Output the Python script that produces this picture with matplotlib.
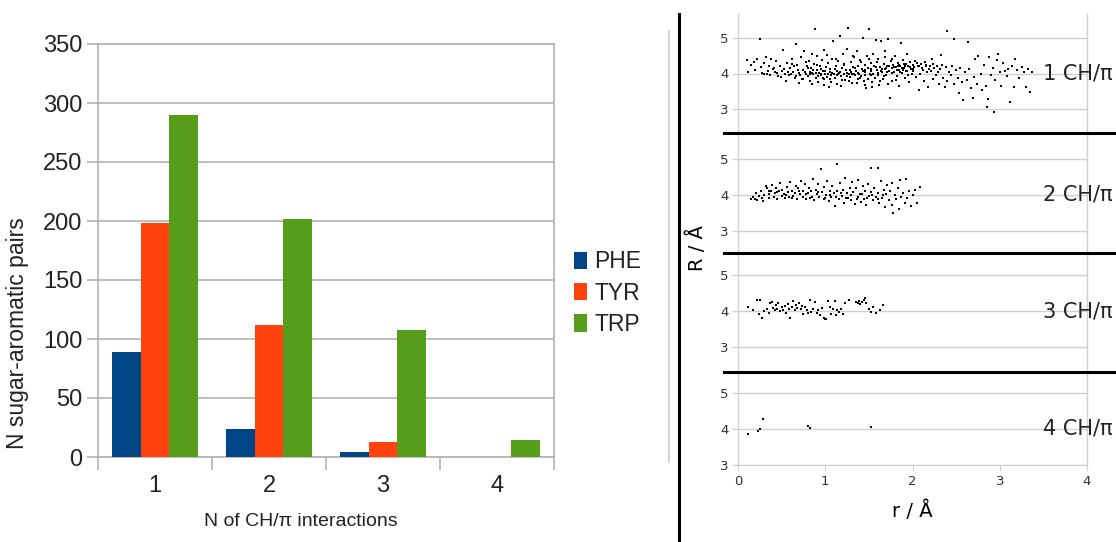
import matplotlib
matplotlib.use("Agg")
import matplotlib.pyplot as plt
from matplotlib.lines import Line2D
import numpy as np

# ---------------- data ----------------
categories = [1, 2, 3, 4]
cat_labels = ["1", "2", "3", "4"]
series_names = ["PHE", "TYR", "TRP"]
phe = [89, 24, 4, 0]
tyr = [198, 112, 13, 0]
trp = [290, 202, 108, 14]
bar_colors = ["#004586", "#ff420e", "#579d1c"]
y_ticks = [0, 50, 100, 150, 200, 250, 300, 350]

panel_labels = ["1 CH/π", "2 CH/π", "3 CH/π", "4 CH/π"]

p1 = [(0.10,4.38),(0.12,4.05),(0.15,4.25),(0.18,4.32),(0.20,4.10),(0.22,4.42),(0.25,4.96),(0.26,4.18),
      (0.28,4.02),(0.30,4.30),(0.32,4.45),(0.33,3.98),(0.35,4.20),(0.38,4.40),(0.40,4.12),(0.42,4.05),
      (0.44,4.35),(0.46,3.92),(0.48,4.22),(0.50,4.08),(0.52,4.67),(0.54,4.00),(0.56,4.30),(0.58,3.95),
      (0.60,4.15),(0.62,4.40),(0.63,4.05),(0.65,3.88),(0.66,4.82),(0.68,4.25),(0.70,4.02),(0.71,3.95),
      (0.72,4.45),(0.74,4.10),(0.75,3.85),(0.76,4.62),(0.78,4.00),(0.79,4.20),(0.80,3.92),(0.81,4.35),
      (0.82,4.05),(0.83,3.80),(0.84,4.15),(0.85,4.55),(0.86,3.98),(0.87,4.28),(0.88,5.24),(0.89,3.88),
      (0.90,4.10),(0.91,4.48),(0.92,3.75),(0.93,4.02),(0.94,4.20),(0.95,3.95),(0.96,4.38),(0.97,4.08),
      (0.98,3.85),(0.99,4.65),(1.00,4.00),(1.01,4.18),(1.02,3.90),(1.03,4.30),(1.04,3.62),(1.05,4.12),
      (1.06,4.05),(1.07,3.96),(1.08,4.42),(1.09,4.92),(1.10,4.00),(1.11,3.88),(1.12,4.22),(1.13,4.08),
      (1.14,3.70),(1.15,4.35),(1.16,4.02),(1.17,5.05),(1.18,3.92),(1.19,4.15),(1.20,4.55),(1.21,3.98),
      (1.22,4.25),(1.23,3.82),(1.24,4.10),(1.25,4.68),(1.26,5.28),(1.27,4.00),(1.28,3.90),(1.29,4.32),
      (1.30,4.05),(1.31,3.72),(1.32,4.18),(1.33,4.45),(1.34,3.95),(1.35,4.08),(1.36,4.62),(1.37,3.85),
      (1.38,4.22),(1.39,4.00),(1.40,4.38),(1.41,3.92),(1.42,4.12),(1.43,5.00),(1.44,3.80),(1.45,4.25),
      (1.46,4.05),(1.47,3.60),(1.48,4.48),(1.49,4.15),(1.50,5.25),(1.51,3.98),(1.52,4.30),(1.53,4.08),
      (1.54,3.75),(1.55,4.55),(1.56,4.20),(1.57,3.88),(1.58,4.95),(1.59,4.10),(1.60,4.02),(1.61,4.40),
      (1.62,3.68),(1.63,4.18),(1.64,4.92),(1.65,4.05),(1.66,3.85),(1.67,4.28),(1.68,4.12),(1.69,4.62),
      (1.70,3.95),(1.71,4.22),(1.72,4.98),(1.73,4.08),(1.74,3.31),(1.75,4.35),(1.76,4.15),(1.77,3.78),
      (1.78,4.25),(1.79,4.05),(1.80,4.50),(1.81,4.18),(1.82,3.92),(1.83,4.30),(1.84,4.10),(1.85,3.65),
      (1.86,4.22),(1.87,4.85),(1.88,4.02),(1.89,4.38),(1.90,4.15),(1.91,3.88),(1.92,4.28),(1.93,4.08),
      (1.94,4.55),(1.95,4.20),(1.96,3.75),(1.97,4.32),(1.98,4.12),(1.99,4.00),(2.00,4.25),(2.02,4.18),
      (2.04,3.90),(2.05,4.30),(2.07,4.22),(2.08,3.55),(2.10,4.28),(2.12,4.10),(2.13,3.80),(2.15,4.25),
      (2.17,4.05),(2.18,3.62),(2.20,4.20),(2.22,4.40),(2.23,3.85),(2.25,4.15),(2.27,3.95),(2.28,4.22),
      (2.30,3.70),(2.32,4.12),(2.33,4.52),(2.35,3.88),(2.37,3.62),(2.38,4.18),(2.39,5.18),(2.40,3.80),
      (2.42,4.05),(2.44,3.95),(2.45,4.20),(2.47,4.96),(2.48,3.70),(2.50,4.10),(2.52,3.88),(2.53,3.45),
      (2.55,4.15),(2.57,3.75),(2.58,3.25),(2.60,4.05),(2.62,3.82),(2.64,4.89),(2.65,4.12),(2.67,3.60),
      (2.69,3.31),(2.70,3.90),(2.72,4.42),(2.74,3.70),(2.75,4.48),(2.78,4.00),(2.80,3.55),(2.82,4.25),
      (2.84,3.65),(2.85,3.07),(2.86,3.28),(2.88,4.45),(2.90,3.95),(2.92,4.15),(2.93,2.93),(2.95,3.82),
      (2.97,4.38),(2.98,4.55),(3.00,4.05),(3.02,3.65),(3.04,4.30),(3.06,4.08),(3.08,3.92),(3.10,4.12),
      (3.12,3.21),(3.14,4.22),(3.16,3.62),(3.18,4.40),(3.20,4.10),(3.22,3.88),(3.25,4.18),(3.28,4.05),
      (3.30,3.62),(3.32,4.12),(3.35,3.47),(3.37,4.05),
      (0.30,4.00),(0.34,4.08),(0.37,3.95),(0.41,4.15),(0.45,4.02),(0.49,3.90),(0.53,4.12),(0.57,4.05),
      (0.61,3.98),(0.64,4.20),(0.67,3.92),(0.69,4.10),(0.73,3.85),(0.77,4.05),(0.80,4.15),(0.83,3.98),
      (0.86,4.10),(0.89,4.02),(0.92,3.92),(0.95,4.12),(0.97,3.88),(1.00,4.08),(1.03,3.98),(1.05,3.85),
      (1.08,4.02),(1.11,4.12),(1.14,3.95),(1.17,4.05),(1.19,3.82),(1.22,4.00),(1.25,3.92),(1.28,4.10),
      (1.31,3.98),(1.34,4.15),(1.37,4.02),(1.40,3.88),(1.43,4.08),(1.46,3.95),(1.49,3.85),(1.52,4.12),
      (1.55,4.00),(1.58,4.18),(1.61,3.95),(1.64,4.08),(1.67,3.92),(1.70,4.15),(1.73,4.22),(1.76,4.02),
      (1.79,4.18),(1.82,4.10),(1.85,4.25),(1.88,4.15),(1.91,4.20),(1.94,4.08),(1.97,4.18),(2.01,4.12),
      (2.06,4.20),(2.11,4.15),(2.16,4.22),(2.21,4.08),
      (0.55,3.78),(0.62,4.28),(0.70,3.72),(0.78,4.32),(0.85,3.70),(0.91,4.25),(0.98,3.68),(1.02,4.52),
      (1.07,3.75),(1.12,4.40),(1.18,3.65),(1.21,4.28),(1.27,3.78),(1.32,4.50),(1.36,3.72),(1.41,4.32),
      (1.45,3.68),(1.50,4.40),(1.54,3.62),(1.59,4.32),(1.63,3.78),(1.68,4.45),(1.72,3.70),(1.77,4.40),
      (1.81,3.82),(1.86,4.05),(1.90,4.28),(1.95,3.95),(2.00,4.08),(2.03,4.35),(2.09,3.98),(2.14,4.32),
      (2.19,4.12),(2.24,4.28),(2.29,4.05),(2.34,4.25),(0.95,4.00),(1.15,3.98),(1.33,4.00),(1.53,3.95),
      (1.71,4.05),(1.89,4.10),(0.85,4.02),(1.05,4.05),(1.25,4.02),(1.45,4.10),(1.65,4.12),(1.83,4.20)]

p2 = [(0.15,3.88),(0.17,3.95),(0.19,3.90),(0.21,4.05),(0.22,3.85),(0.24,3.98),(0.26,4.10),(0.27,3.92),
      (0.29,3.82),(0.30,4.00),(0.32,4.25),(0.33,4.18),(0.35,4.02),(0.36,3.92),(0.38,4.12),(0.39,4.28),
      (0.41,3.95),(0.42,4.05),(0.44,4.20),(0.45,3.88),(0.47,4.10),(0.48,4.32),(0.50,3.98),(0.51,4.15),
      (0.53,4.02),(0.54,3.92),(0.56,4.22),(0.57,4.08),(0.59,3.95),(0.60,4.35),(0.62,4.12),(0.63,3.98),
      (0.65,4.05),(0.66,4.25),(0.68,3.90),(0.69,4.18),(0.71,4.02),(0.72,4.40),(0.74,3.95),(0.75,4.12),
      (0.77,4.30),(0.78,3.88),(0.80,4.05),(0.81,4.20),(0.83,3.92),(0.84,4.10),(0.86,4.45),(0.87,3.85),
      (0.89,4.15),(0.90,4.02),(0.92,4.30),(0.93,3.95),(0.95,4.72),(0.96,4.08),(0.98,3.90),(0.99,4.22),
      (1.01,4.00),(1.02,4.38),(1.04,3.82),(1.05,4.12),(1.07,3.95),(1.08,4.25),(1.10,4.05),(1.11,3.70),
      (1.13,4.86),(1.14,4.10),(1.16,3.88),(1.17,4.32),(1.19,3.98),(1.20,4.15),(1.22,3.78),(1.23,4.48),
      (1.25,4.05),(1.26,3.92),(1.28,4.20),(1.29,3.85),(1.31,4.35),(1.32,4.08),(1.34,3.75),(1.35,4.18),
      (1.37,3.95),(1.38,4.42),(1.40,4.02),(1.41,3.80),(1.43,4.25),(1.44,3.90),(1.46,4.12),(1.47,3.72),
      (1.49,4.30),(1.50,3.98),(1.52,4.08),(1.53,4.75),(1.55,3.85),(1.56,4.20),(1.58,3.95),(1.60,4.75),
      (1.61,4.05),(1.62,3.78),(1.64,4.38),(1.65,3.92),(1.67,4.15),(1.68,3.68),(1.70,4.02),(1.71,4.28),
      (1.73,3.85),(1.74,4.10),(1.76,3.72),(1.77,4.32),(1.78,3.50),(1.80,4.00),(1.81,3.88),(1.83,4.18),
      (1.84,3.62),(1.86,4.42),(1.87,3.95),(1.89,4.05),(1.91,3.78),(1.92,4.45),(1.94,3.92),(1.96,4.10),
      (1.98,3.70),(2.00,4.00),(2.03,4.15),(2.05,3.78),(2.09,4.22),
      (0.35,4.12),(0.45,4.08),(0.55,4.00),(0.62,3.92),(0.70,4.10),(0.78,4.02),(0.85,3.95),(0.92,4.08),
      (1.00,3.92),(1.06,4.00),(1.12,3.95),(1.18,4.05),(1.24,3.92),(1.30,4.00),(1.36,3.88),(1.42,4.02),
      (1.48,3.92),(1.54,4.00),(1.60,3.90),(1.66,4.00)]

p3 = [(0.12,4.10),(0.17,4.02),(0.22,4.30),(0.25,4.32),(0.24,3.92),(0.28,3.82),(0.30,4.00),(0.33,4.05),
      (0.35,3.95),(0.37,4.22),(0.39,4.25),(0.40,4.08),(0.42,4.02),(0.43,4.18),(0.45,4.05),(0.46,4.22),
      (0.48,4.00),(0.50,4.10),(0.52,4.02),(0.54,4.15),(0.55,3.95),(0.57,4.20),(0.58,4.05),(0.60,3.82),
      (0.62,4.12),(0.63,4.28),(0.65,4.02),(0.67,4.18),(0.68,4.08),(0.70,4.22),(0.72,4.05),(0.73,4.15),
      (0.75,3.92),(0.77,4.10),(0.79,4.02),(0.80,3.95),(0.82,4.30),(0.84,3.98),(0.86,4.05),(0.88,4.25),
      (0.90,3.95),(0.92,4.02),(0.94,3.88),(0.96,4.08),(0.98,3.80),(1.00,3.78),(1.01,3.78),(1.03,4.28),
      (1.05,4.10),(1.07,3.92),(1.09,4.05),(1.11,4.28),(1.12,3.88),(1.14,4.02),(1.16,3.98),(1.18,4.05),
      (1.20,3.92),(1.23,4.22),(1.27,4.30),(1.35,4.25),(1.37,4.22),(1.39,4.28),(1.40,4.20),(1.42,4.25),
      (1.44,4.30),(1.45,4.35),(1.47,4.22),(1.50,4.05),(1.52,3.98),(1.55,4.10),(1.58,3.95),(1.63,4.02),
      (1.66,4.18)]

p4 = [(0.12,3.86),(0.23,3.93),(0.25,4.00),(0.29,4.29),(0.80,4.08),(0.82,4.04),(1.52,4.06)]

panels = [p1, p2, p3, p4]
r_ticks = [0, 1, 2, 3, 4]
R_ticks = [3, 4, 5]

# ---------------- figure ----------------
W, H = 1116, 542
fig = plt.figure(figsize=(W / 100, H / 100), dpi=100)

def fx(px):
    return px / W

def fy(py):
    return 1 - py / H

bar_font = ["Liberation Sans Narrow", "Liberation Sans", "DejaVu Sans"]
grid_gray = "#b3b3b3"
txt = "#222222"

# ---- bar chart ----
ax = fig.add_axes([fx(98), fy(457), fx(554) - fx(98), fy(44) - fy(457)])
x = np.array(categories, dtype=float)
w = 0.25
for i, (vals, name, col) in enumerate(zip([phe, tyr, trp], series_names, bar_colors)):
    ax.bar(x + (i - 1) * w, vals, width=w, color=col, label=name, zorder=3)
ax.set_xlim(0.5, 4.5)
ax.set_ylim(0, 350)
ax.set_yticks(y_ticks)
ax.set_yticklabels([str(t) for t in y_ticks], family=bar_font, fontsize=17, color=txt)
ax.set_xticks([0.5, 1.5, 2.5, 3.5, 4.5])
ax.set_xticklabels([])
ax.set_xticks(x, minor=True)
ax.set_xticklabels(cat_labels, minor=True, family=bar_font, fontsize=17, color=txt)
ax.tick_params(axis="x", which="major", length=9, color=grid_gray, width=1.2)
ax.tick_params(axis="x", which="minor", length=0, pad=13)
ax.tick_params(axis="y", length=8, color=grid_gray, width=1.2, pad=3)
ax.grid(axis="y", color=grid_gray, linewidth=1.2, zorder=0)
for s in ax.spines.values():
    s.set_color(grid_gray)
    s.set_linewidth(1.2)
ax.set_xlabel("N of CH/π interactions", family=bar_font, fontsize=14, color=txt)
ax.xaxis.set_label_coords((301 - 98) / 456, (457 - 522) / 413)
ax.xaxis.label.set_va("center")
ax.set_ylabel("N sugar-aromatic pairs", family=bar_font, fontsize=16.5, color=txt)
ax.yaxis.set_label_coords((18 - 98) / 456, (457 - 333) / 413)
ax.yaxis.label.set_va("center")
leg = ax.legend(loc="center left", bbox_to_anchor=(fx(574), fy(293)), bbox_transform=fig.transFigure,
                frameon=False, handlelength=0.55, handleheight=0.8, handletextpad=0.35,
                labelspacing=0.36, borderpad=0, borderaxespad=0,
                prop={"family": bar_font, "size": 16.5})
for t in leg.get_texts():
    t.set_color(txt)

# faint gray vertical line and black separator
fig.add_artist(Line2D([fx(669), fx(669)], [fy(31), fy(462)], color="#cccccc", lw=1.2))
fig.add_artist(Line2D([fx(679), fx(679)], [fy(14), fy(542)], color="black", lw=2.2))

# ---- scatter panels ----
panel_px = [(14, 133, 5.67, 2.33), (133, 253, 5.72, 2.39), (253, 372, 5.61, 2.31), (372, 465, 5.58, 3.0)]
for k, ((top, bot, ymax, ymin), pts, lab) in enumerate(zip(panel_px, panels, panel_labels)):
    a = fig.add_axes([fx(738), fy(bot), fx(1087) - fx(738), fy(top) - fy(bot)])
    rr = [p[0] for p in pts]
    RR = [p[1] for p in pts]
    a.scatter(rr, RR, s=4.0, c="black", marker="s", linewidths=0, zorder=3)
    a.set_xlim(0, 4)
    a.set_ylim(ymin, ymax)
    a.set_yticks(R_ticks)
    a.set_yticklabels([str(t) for t in R_ticks], fontsize=9.5, color="#333333")
    a.tick_params(axis="y", length=4, color="#d0d0d0", width=1, pad=3)
    a.grid(axis="y", color="#d0d0d0", linewidth=1, zorder=0)
    for side in ["top", "bottom"]:
        a.spines[side].set_visible(False)
    for side in ["left", "right"]:
        a.spines[side].set_color("#d0d0d0")
        a.spines[side].set_linewidth(1)
    if k == 3:
        a.spines["bottom"].set_visible(True)
        a.spines["bottom"].set_color("#d0d0d0")
        a.set_xticks(r_ticks)
        a.set_xticklabels([str(t) for t in r_ticks], fontsize=9.5, color="#333333")
        a.tick_params(axis="x", length=4, color="#d0d0d0", pad=3)
        a.set_xlabel("r / Å", fontsize=14, labelpad=9)
    else:
        a.set_xticks([])
    a.text(3.5, 4.0, lab, fontsize=15, va="center", ha="left", color=txt, clip_on=False, zorder=4)
    a.patch.set_alpha(0)

for py in [133, 253, 372]:
    fig.add_artist(Line2D([fx(724), 1.0], [fy(py), fy(py)], color="black", lw=2.2))

fig.text(fx(697), fy(248), "R / Å", rotation=90, fontsize=14, va="center", ha="center")

fig.savefig("out.png", dpi=100)
